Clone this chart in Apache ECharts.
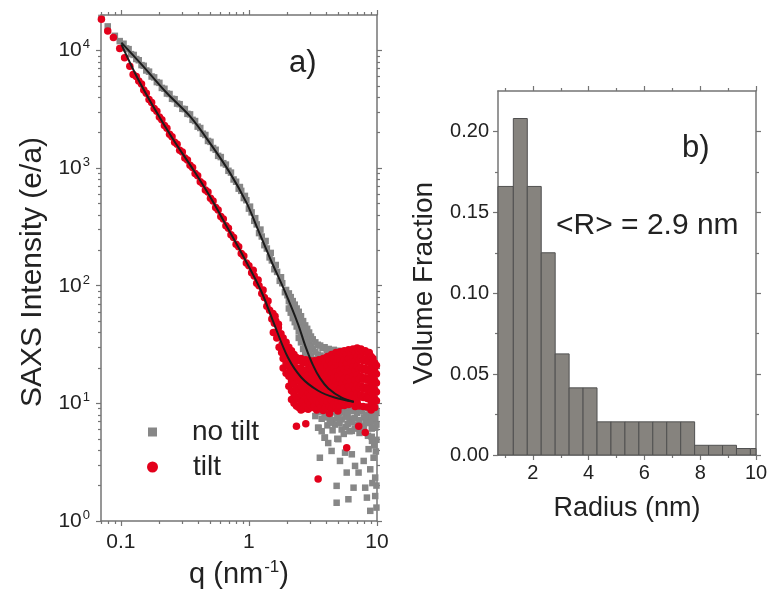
<!DOCTYPE html>
<html>
<head>
<meta charset="utf-8">
<script src="https://cdn.jsdelivr.net/npm/echarts@6/dist/echarts.min.js"></script>
<style>html,body{margin:0;padding:0;background:#fff}#c{width:770px;height:591px}</style>
</head>
<body>
<div id="c"></div>
<script>
// ---------- panel a) SAXS data ----------
const noTiltPoints = [
  [0.0705,18900],[0.079,16000],[0.0898,13300],[0.098,12000],
  [0.105,11400],[0.110,10400],[0.115,10250],[0.120,9300],[0.126,9150],[0.132,8450],[0.138,8250],[0.145,7500],
  [0.151,7400],[0.158,6750],[0.166,6600],[0.174,6000],[0.182,5900],[0.191,5380],[0.200,5300],[0.209,4800],
  [0.219,4720],[0.229,4300],[0.240,4260],[0.251,3880],[0.263,3850],[0.275,3530],[0.288,3490],[0.302,3190],
  [0.316,3170],[0.331,2890],[0.347,2860],[0.363,2570],[0.380,2510],[0.398,2250],[0.417,2190],[0.437,1960],
  [0.457,1910],[0.479,1700],[0.501,1670],[0.525,1480],[0.550,1430],[0.575,1270],[0.603,1240],[0.631,1100],
  [0.661,1070],[0.692,948],[0.724,915],[0.759,800],[0.794,765],[0.832,668],[0.871,640],[0.912,556],
  [0.955,533],[1.00,452],[1.05,420],[1.10,356],[1.15,332],[1.20,280],[1.26,262],[1.32,221],[1.38,207],
  [1.45,174],[1.51,164],[1.58,138],[1.66,131],[1.74,110],[1.82,105],[1.91,88],[2.00,83],
  [0.85,690],[0.93,580],[1.02,470],[1.12,375],[1.23,300],[1.35,240],[1.48,190],[1.62,150],[1.78,118],[1.95,92],
  [2.05,86],[2.05,74],[2.05,64],[2.12,80],[2.12,68],[2.12,59],[2.2,74],[2.2,62],[2.2,53],
  [2.28,69],[2.28,57],[2.28,49],[2.36,64],[2.36,52],[2.36,45],
  [2.45,60],[2.45,48],[2.45,41],[2.45,36],[2.55,55],[2.55,45],[2.55,38],[2.55,33],
  [2.65,50],[2.65,41],[2.65,34],[2.65,29],[2.75,46],[2.75,37],[2.75,31],[2.75,26.5],
  [2.85,43],[2.85,35],[2.85,28.5],[2.85,24.5],[2.95,40],[2.95,32.5],[2.95,26.5],[2.95,23],
  [3.05,37],[3.05,30.5],[3.05,25],[3.05,21.5],[3.15,35],[3.15,29],[3.15,23.5],[3.15,20],
  [3.3,33],[3.3,27.5],[3.3,22.5],[3.45,31.5],[3.45,26],[3.45,21.5],[3.6,31],[3.6,25.5],[3.6,21],
  [3.75,29.5],[3.75,24.5],[3.75,20.5],[3.9,30],[3.9,25],[4.05,28.5],[4.05,24],[4.2,29],[4.2,24.5],
  [4.4,27.5],[4.4,23.5],[4.6,28.5],[4.6,24],[4.8,27],[4.8,23],[5.0,28],[5.0,23.5],[5.2,26.5],[5.2,22.5],
  [5.4,27.5],[5.4,23],[5.6,26],[5.6,22],[5.8,27],[6.0,25.5],
  [3.3,9.5],[3.3,7.8],[3.5,8.5],[3.5,6.2],[3.7,9.0],[3.7,7.4],[3.7,5.8],[3.9,8.3],[3.9,5.1],
  [4.1,9.2],[4.1,7.6],[4.1,6.5],[4.3,8.0],[4.3,6.9],[4.5,9.4],[4.5,7.2],[4.5,5.9],[4.7,8.4],[4.7,6.6],
  [4.9,9.1],[4.9,7.5],[4.9,5.0],[5.1,8.2],[5.1,6.8],[5.3,9.3],[5.3,7.3],[5.3,6.0],[5.5,8.5],[5.5,5.5],
  [5.7,9.0],[5.7,7.7],[5.7,6.3],[5.9,8.1],[5.9,6.7],[6.1,9.4],[6.1,7.4],[6.1,5.8],[6.4,8.6],[6.4,6.9],
  [6.7,9.2],[6.7,7.5],[6.7,6.1],[7.0,8.3],[7.0,6.6],[7.3,9.0],[7.3,7.2],[7.3,5.6],[7.6,8.6],[7.6,6.2],
  [7.9,9.3],[7.9,7.6],[7.9,6.4],[8.2,8.0],[8.2,6.9],[8.5,9.1],[8.5,7.3],[8.5,5.3],[8.8,8.4],[8.8,6.8],
  [9.1,9.5],[9.1,7.8],[9.1,6.1],[9.1,5.2],[9.4,8.7],[9.4,7.0],[9.7,9.2],[9.7,7.5],[9.7,6.2],
  [9.9,8.4],[9.9,6.6],[9.9,4.9],
  [3.58,3.45],[4.16,4.6],[4.84,1.99],[4.84,1.43],[5.98,1.53],[6.56,1.92],[8.09,1.92],[8.34,1.58],
  [8.86,1.22],[9.68,1.63],[4.42,3.94],[5.14,3.24],[5.80,2.58],[6.74,2.94],[7.18,2.58],[7.87,3.24],
  [8.86,2.75],[9.4,3.45],[8.6,4.08],[6.36,3.69],[5.63,3.81],[4.99,4.96],[3.92,5.12],[3.47,6.2],
  [4.29,6.87],[6.36,5.83],[7.62,6.2],[9.14,4.8],[9.68,2.34],[9.9,1.3],[9.8,3.9],[9.5,4.4],[9.9,2.0],[9.2,2.1]
];

const tiltPoints = [
  [0.0705,18400],[0.079,14600],[0.0875,12900],[0.098,10400],[0.107,8670],[0.1175,7350],[0.1247,6250],
  [0.132,6000],[0.138,5500],[0.145,5180],[0.151,4600],[0.158,4330],[0.166,3830],[0.174,3600],[0.182,3210],
  [0.191,3040],[0.200,2710],[0.209,2580],[0.219,2300],[0.229,2180],[0.240,1940],[0.251,1850],[0.263,1660],
  [0.275,1590],[0.288,1420],[0.302,1370],[0.316,1220],[0.331,1170],[0.347,1055],[0.363,1010],[0.380,900],
  [0.398,862],[0.417,766],[0.437,735],[0.457,652],[0.479,625],[0.501,553],[0.525,526],[0.550,463],
  [0.575,440],[0.603,388],[0.631,369],[0.661,324],[0.692,308],[0.724,271],[0.759,257],[0.794,225],
  [0.832,214],[0.871,188],[0.912,179],[0.955,156],[1.00,148],[1.05,129],[1.10,121],[1.15,105],[1.20,100],
  [1.26,86],[1.32,79.5],[1.38,67],[1.45,62],[1.51,52],[1.58,48],[1.66,40.5],[1.74,38],[1.82,32],
  [1.08,135],[1.18,112],[1.29,92],[1.41,74],[1.54,58],[1.62,50],[1.70,44],[1.78,39],
  [1.55,40],[1.65,36],[1.72,30],[1.8,27],[1.6,55],[1.7,47],
  [1.85,36],[1.85,29],[1.85,24],[1.85,20],[1.95,33],[1.95,27],[1.95,22],[1.95,18],
  [2.05,30],[2.05,25],[2.05,20.5],[2.05,17],[2.05,14],
  [2.15,28],[2.15,23],[2.15,19],[2.15,15.5],[2.15,12.8],[2.15,10.8],
  [2.25,26],[2.25,21.5],[2.25,17.5],[2.25,14.5],[2.25,12],[2.25,10],
  [2.35,24.5],[2.35,20],[2.35,16.5],[2.35,13.5],[2.35,11.3],[2.35,9.5],[2.35,6.4],
  [2.45,23],[2.45,19],[2.45,15.5],[2.45,13],[2.45,11],[2.45,9.2],
  [2.55,24],[2.55,20],[2.55,16.5],[2.55,14],[2.55,12],[2.55,10.2],[2.55,8.8],
  [2.65,22],[2.65,18],[2.65,15],[2.65,12.5],[2.65,10.5],[2.65,9],
  [2.78,23.5],[2.78,19],[2.78,16],[2.78,13.2],[2.78,11.3],[2.78,9.6],[2.78,6.7],
  [2.9,21.5],[2.9,17.5],[2.9,14.5],[2.9,12.2],[2.9,10.4],[2.9,8.9],
  [3.0,23],[3.0,19.5],[3.0,16],[3.0,13.5],[3.0,11.5],[3.0,9.8],
  [3.12,22],[3.12,18],[3.12,15],[3.12,12.8],[3.12,10.8],[3.12,9.2],
  [3.25,23],[3.25,19],[3.25,16],[3.25,13.5],[3.25,11.5],[3.25,9.5],
  [3.38,21],[3.38,17.5],[3.38,14.5],[3.38,12.3],[3.38,10.5],[3.38,8.8],[3.47,2.28],
  [3.52,23.5],[3.52,20],[3.52,16.5],[3.52,14],[3.52,12],[3.52,10],
  [3.66,22.5],[3.66,18.5],[3.66,15.5],[3.66,13],[3.66,11],[3.66,9.3],
  [3.8,24],[3.8,20.5],[3.8,17],[3.8,14.2],[3.8,12],[3.8,10.2],[3.8,8.7],
  [3.95,22],[3.95,18.5],[3.95,15.2],[3.95,12.8],[3.95,10.8],[3.95,9.2],
  [4.1,25],[4.1,21],[4.1,17.5],[4.1,14.5],[4.1,12.2],[4.1,10.3],
  [4.25,23],[4.25,19],[4.25,16],[4.25,13.3],[4.25,11.2],[4.25,9.4],[4.25,8.2],
  [4.42,26],[4.42,21.5],[4.42,18],[4.42,15],[4.42,12.6],[4.42,10.6],[4.42,9],
  [4.6,24],[4.6,20],[4.6,16.5],[4.6,13.8],[4.6,11.6],[4.6,9.8],
  [4.78,27],[4.78,22.5],[4.78,18.5],[4.78,15.5],[4.78,13],[4.78,11],[4.78,9.3],
  [4.95,25],[4.95,21],[4.95,17.2],[4.95,14.3],[4.95,12],[4.95,10.1],[4.95,8.6],
  [5.15,27.5],[5.15,23],[5.15,19],[5.15,16],[5.15,13.4],[5.15,11.3],[5.15,9.5],
  [5.35,25.5],[5.35,21.5],[5.35,17.8],[5.35,14.8],[5.35,12.4],[5.35,10.4],
  [5.55,28],[5.55,23.5],[5.55,19.5],[5.55,16.3],[5.55,13.6],[5.55,11.4],[5.55,9.6],
  [5.8,26],[5.8,22],[5.8,18.3],[5.8,15.2],[5.8,12.7],[5.8,10.7],[5.8,4.2],
  [6.0,28.5],[6.0,24],[6.0,20],[6.0,16.6],[6.0,13.9],[6.0,11.7],[6.0,9.8],
  [6.25,26.5],[6.25,22.3],[6.25,18.6],[6.25,15.5],[6.25,13],[6.25,10.9],
  [6.5,29],[6.5,24.5],[6.5,20.5],[6.5,17],[6.5,14.2],[6.5,11.9],[6.5,10],
  [6.75,27],[6.75,23],[6.75,19],[6.75,15.8],[6.75,13.2],[6.75,11.1],[6.75,9.4],
  [7.0,29.5],[7.0,25],[7.0,20.8],[7.0,17.3],[7.0,14.4],[7.0,12.1],[7.0,10.2],
  [7.25,28],[7.25,23.5],[7.25,19.5],[7.25,16.2],[7.25,13.5],[7.25,11.3],[7.25,9.5],[7.2,6.4],
  [7.5,29],[7.5,24.5],[7.5,20.3],[7.5,16.9],[7.5,14.1],[7.5,11.8],
  [7.8,27.5],[7.8,23],[7.8,19.2],[7.8,16],[7.8,13.3],[7.8,11.2],[7.8,9.4],
  [8.1,28],[8.1,23.8],[8.1,19.8],[8.1,16.5],[8.1,13.8],[8.1,11.6],[8.1,5.65],
  [8.4,26.5],[8.4,22.5],[8.4,18.8],[8.4,15.7],[8.4,13.1],[8.4,11],[8.4,9.3],
  [8.7,27],[8.7,23],[8.7,19.2],[8.7,16],[8.7,13.4],[8.7,11.2],
  [9.0,25],[9.0,21.2],[9.0,17.7],[9.0,14.8],[9.0,12.4],[9.0,10.4],[9.0,8.8],
  [9.3,24],[9.3,20.3],[9.3,17],[9.3,14.2],[9.3,11.9],[9.3,10],
  [9.6,22],[9.6,18.7],[9.6,15.6],[9.6,13],[9.6,10.9],[9.6,9.2],
  [9.9,21],[9.9,17.8],[9.9,14.9],[9.9,12.5],[9.9,10.5]
];

const noTiltFit = [
  [0.101,11640],[0.149,7350],[0.2275,4365],[0.346,2760],[0.495,1638],[0.711,910],[0.959,506],
  [1.148,320],[1.49,163],[1.897,90.7],[2.418,47.2],[2.75,31],[3.17,21],[3.6,16.3],[4.17,13.4],
  [5.3,11.2],[6.59,10.3]
];
const tiltFit = [
  [0.101,11250],[0.1327,6040],[0.1786,3357],[0.2564,1750],[0.367,971],[0.495,575],[0.67,320],
  [0.914,174],[1.243,90.6],[1.574,47.2],[2.018,24.5],[2.566,16.6],[3.475,12.8],[4.67,11.2],[6.59,10.3]
];

const qMajorTicks = [0.1, 1, 10];
const qMinorTicks = [0.07,0.08,0.09,0.2,0.3,0.4,0.5,0.6,0.7,0.8,0.9,2,3,4,5,6,7,8,9];
const intensityMajorTicks = [1, 10, 100, 1000, 10000];
const intensityMinorTicks = [2,3,4,5,6,7,8,9,20,30,40,50,60,70,80,90,200,300,400,500,600,700,800,900,
  2000,3000,4000,5000,6000,7000,8000,9000];

// ---------- panel b) size distribution ----------
const radiusBinLo = [0.75,1.3,1.8,2.3,2.8,3.3,3.8,4.3,4.8,5.3,5.8,6.3,6.8,7.3,7.8,8.3,8.8,9.3,9.8];
const radiusBinHi = [1.3,1.8,2.3,2.8,3.3,3.8,4.3,4.8,5.3,5.8,6.3,6.8,7.3,7.8,8.3,8.8,9.3,9.8,10.0];
const volumeFraction = [0.166,0.208,0.166,0.125,0.0625,0.0415,0.0415,0.0205,0.0205,0.0205,0.0205,
  0.0205,0.0205,0.0205,0.006,0.006,0.006,0.004,0.004];
const radiusMajorTicks = [2,4,6,8,10];
const radiusMinorTicks = [1,3,5,7,9];
const fractionMajorTicks = [0, 0.05, 0.10, 0.15, 0.20];
const fractionMinorTicks = [0.025, 0.075, 0.125, 0.175];

// ---------- styling ----------
const FONT = '"Liberation Sans", Arial, Helvetica, sans-serif';
const AXIS_COLOR = '#747474';
const TEXT_COLOR = '#222222';

function mkAxis(o) {
  const ax = {
    type: o.type, gridIndex: o.grid, position: o.pos, min: o.min, max: o.max,
    axisLine: { show: !!o.line, onZero: false, lineStyle: { color: AXIS_COLOR, width: 1.5 } },
    axisTick: { show: true, inside: false, length: o.len, customValues: o.ticks,
                lineStyle: { color: AXIS_COLOR, width: 1.2 } },
    axisLabel: { show: false },
    splitLine: { show: false },
    minorTick: { show: false },
    axisPointer: { show: false },
    silent: true
  };
  if (o.type === 'log') ax.logBase = 10;
  if (o.labels) {
    ax.axisLabel = { show: true, customValues: o.ticks, formatter: o.formatter, margin: o.margin,
      color: TEXT_COLOR, fontFamily: FONT, fontSize: o.fontSize, rich: o.rich, hideOverlap: false };
  }
  if (o.name) {
    ax.name = o.name; ax.nameLocation = 'middle'; ax.nameGap = o.nameGap;
    ax.nameTextStyle = Object.assign({ color: TEXT_COLOR, fontFamily: FONT, fontSize: 28 }, o.nameStyle || {});
  }
  return ax;
}

const supRich = {
  b: { fontSize: 21, fontFamily: FONT, color: TEXT_COLOR, lineHeight: 24 },
  s: { fontSize: 13, fontFamily: FONT, color: TEXT_COLOR, verticalAlign: 'top', lineHeight: 24, padding: [0, 0, 9, 1] }
};

const qFmt = v => (v < 1 ? v.toFixed(1) : String(Math.round(v)));
const iFmt = v => '{b|10}{s|' + Math.round(Math.log10(v)) + '}';

const xAxes = [
  mkAxis({ grid: 0, pos: 'bottom', type: 'log', min: 0.07, max: 10, ticks: qMajorTicks, len: 5, line: true,
    labels: true, formatter: qFmt, fontSize: 21, margin: 11,
    name: '{n|q (nm}{s|-1}{n|)}', nameGap: 38,
    nameStyle: { rich: { n: { fontSize: 29, fontFamily: FONT, color: TEXT_COLOR },
                         s: { fontSize: 17, fontFamily: FONT, color: TEXT_COLOR, verticalAlign: 'top', padding: [0,0,14,1] } } } }),
  mkAxis({ grid: 0, pos: 'bottom', type: 'log', min: 0.07, max: 10, ticks: qMinorTicks, len: 3 }),
  mkAxis({ grid: 0, pos: 'top', type: 'log', min: 0.07, max: 10, ticks: qMajorTicks, len: 5, line: true }),
  mkAxis({ grid: 0, pos: 'top', type: 'log', min: 0.07, max: 10, ticks: qMinorTicks, len: 3 }),
  mkAxis({ grid: 1, pos: 'bottom', type: 'value', min: 0.75, max: 10, ticks: radiusMajorTicks, len: 5, line: true,
    labels: true, formatter: v => String(Math.round(v)), fontSize: 20, margin: 8,
    name: 'Radius (nm)', nameGap: 40, nameStyle: { fontSize: 27 } }),
  mkAxis({ grid: 1, pos: 'bottom', type: 'value', min: 0.75, max: 10, ticks: radiusMinorTicks, len: 3 }),
  mkAxis({ grid: 1, pos: 'top', type: 'value', min: 0.75, max: 10, ticks: radiusMajorTicks, len: 5, line: true }),
  mkAxis({ grid: 1, pos: 'top', type: 'value', min: 0.75, max: 10, ticks: radiusMinorTicks, len: 3 })
];
const yAxes = [
  mkAxis({ grid: 0, pos: 'left', type: 'log', min: 1, max: 20000, ticks: intensityMajorTicks, len: 5, line: true,
    labels: true, formatter: iFmt, rich: supRich, fontSize: 21, margin: 11,
    name: 'SAXS Intensity (e/a)', nameGap: 53, nameStyle: { fontSize: 30, padding: [0, 8, 0, 0] } }),
  mkAxis({ grid: 0, pos: 'left', type: 'log', min: 1, max: 20000, ticks: intensityMinorTicks, len: 3 }),
  mkAxis({ grid: 0, pos: 'right', type: 'log', min: 1, max: 20000, ticks: intensityMajorTicks, len: 5, line: true }),
  mkAxis({ grid: 0, pos: 'right', type: 'log', min: 1, max: 20000, ticks: intensityMinorTicks, len: 3 }),
  mkAxis({ grid: 1, pos: 'left', type: 'value', min: 0, max: 0.225, ticks: fractionMajorTicks, len: 5, line: true,
    labels: true, formatter: v => v.toFixed(2), fontSize: 20, margin: 9,
    name: 'Volume Fraction', nameGap: 60, nameStyle: { padding: [0, 20, 0, 0] } }),
  mkAxis({ grid: 1, pos: 'left', type: 'value', min: 0, max: 0.225, ticks: fractionMinorTicks, len: 3 }),
  mkAxis({ grid: 1, pos: 'right', type: 'value', min: 0, max: 0.225, ticks: fractionMajorTicks, len: 5, line: true }),
  mkAxis({ grid: 1, pos: 'right', type: 'value', min: 0, max: 0.225, ticks: fractionMinorTicks, len: 3 })
];

const legendText = { fontSize: 28, color: TEXT_COLOR, fontFamily: FONT, padding: [0, 0, 0, 30] };

const option = {
  animation: false,
  backgroundColor: '#ffffff',
  grid: [
    { left: 101, right: 393, top: 15, bottom: 70, outerBoundsMode: 'none' },
    { left: 498, right: 14, top: 91, bottom: 136, outerBoundsMode: 'none' }
  ],
  xAxis: xAxes,
  yAxis: yAxes,
  legend: [
    { data: [{ name: 'no tilt', icon: 'rect' }], left: 143, top: 413, itemWidth: 9, itemHeight: 9,
      selectedMode: false, textStyle: legendText },
    { data: [{ name: 'tilt', icon: 'circle' }], left: 142, top: 448, itemWidth: 11, itemHeight: 11,
      selectedMode: false, textStyle: legendText }
  ],
  graphic: [
    { type: 'text', left: 289, top: 48, style: { text: 'a)', fill: TEXT_COLOR, font: '31px "Liberation Sans", Arial, sans-serif' } },
    { type: 'text', left: 682, top: 133, style: { text: 'b)', fill: TEXT_COLOR, font: '31px "Liberation Sans", Arial, sans-serif' } },
    { type: 'text', left: 556, top: 211, style: { text: '<R> = 2.9 nm', fill: TEXT_COLOR, font: '30px "Liberation Sans", Arial, sans-serif' } }
  ],
  series: [
    { type: 'scatter', name: 'no tilt', xAxisIndex: 0, yAxisIndex: 0, data: noTiltPoints,
      symbol: 'rect', symbolSize: 6.5, itemStyle: { color: '#878787', opacity: 1 }, z: 2, silent: true },
    { type: 'scatter', name: 'tilt', xAxisIndex: 0, yAxisIndex: 0, data: tiltPoints,
      symbol: 'circle', symbolSize: 7.5, itemStyle: { color: '#e3001b', opacity: 1 }, z: 3, silent: true },
    { type: 'line', name: 'fit no tilt', xAxisIndex: 0, yAxisIndex: 0, data: noTiltFit, smooth: 0.35,
      showSymbol: false, lineStyle: { color: '#1c1c1c', width: 2 }, z: 4, silent: true },
    { type: 'line', name: 'fit tilt', xAxisIndex: 0, yAxisIndex: 0, data: tiltFit, smooth: 0.35,
      showSymbol: false, lineStyle: { color: '#1c1c1c', width: 2 }, z: 4, silent: true },
    { type: 'custom', name: 'volume fraction', xAxisIndex: 4, yAxisIndex: 4, silent: true,
      data: radiusBinLo.map((lo, i) => [lo, radiusBinHi[i], volumeFraction[i]]),
      encode: { x: [0, 1], y: 2 },
      renderItem: function (params, api) {
        const p0 = api.coord([api.value(0), api.value(2)]);
        const p1 = api.coord([api.value(1), 0]);
        return { type: 'rect',
          shape: { x: p0[0], y: p0[1], width: p1[0] - p0[0], height: p1[1] - p0[1] },
          style: { fill: '#86837e', stroke: '#505050', lineWidth: 1 } };
      }
    }
  ]
};

const chart = echarts.init(document.getElementById('c'), null, { renderer: 'canvas' });
chart.setOption(option);
</script>
</body>
</html>
